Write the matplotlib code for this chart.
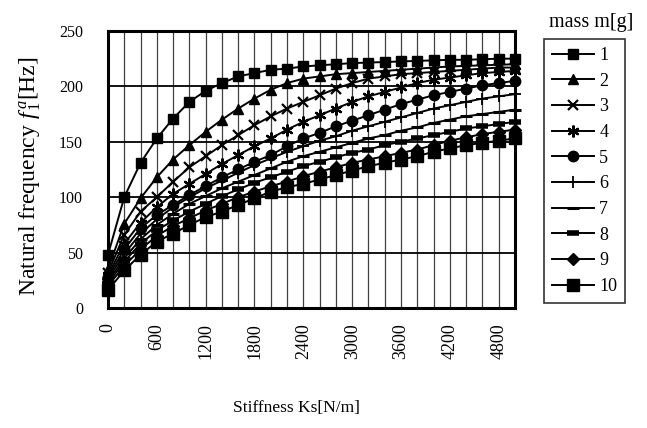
import matplotlib
matplotlib.use("Agg")
import matplotlib.pyplot as plt
import numpy as np

plt.rcParams['font.family'] = ['Liberation Serif', 'DejaVu Serif']
plt.rcParams['mathtext.fontset'] = 'custom'
plt.rcParams['mathtext.it'] = 'Liberation Serif:italic'
plt.rcParams['mathtext.rm'] = 'Liberation Serif'

stiffness = list(range(0, 5001, 200))
masses = ['1', '2', '3', '4', '5', '6', '7', '8', '9', '10']

f_m1 = [48, 100, 131, 153, 171, 186, 196, 203, 209, 212, 215, 216, 218, 219, 220, 221,
        221.5, 222, 222.5, 223, 223.5, 224, 224, 224.5, 225, 225]
f_m2 = [35, 76, 99, 118, 134, 147, 159, 170, 180, 189, 197, 203, 207, 209, 211, 212,
        213, 214, 215, 216, 217, 218, 218.5, 219, 219.5, 220]
f_m3 = [32, 66, 87, 100, 114, 127, 137, 147, 156, 165, 173, 180, 186, 192, 198, 203,
        207, 209, 211, 212, 213, 214, 215, 216, 217, 217]
f_m4 = [30, 58, 77, 91, 103, 112, 121, 130, 138, 146, 153, 161, 168, 174, 180, 186,
        191, 195, 199, 203, 206, 208, 210, 212, 213, 214]
f_m5 = [28, 53, 72, 84, 93, 102, 110, 118, 125, 132, 138, 146, 153, 158, 164, 169,
        174, 179, 184, 188, 192, 195, 198, 201, 203, 205]
f_m6 = [26, 49, 67, 80, 91, 100, 108, 115, 122, 129, 135, 141, 146, 151, 155, 160,
        164, 168, 172, 176, 180, 183, 186, 189, 191, 193]
f_m7 = [24, 45, 62, 75, 85, 94, 101, 108, 114, 120, 126, 132, 137, 141, 145, 149,
        153, 156, 160, 163, 167, 170, 173, 175, 177, 179]
f_m8 = [22, 42, 58, 70, 79, 87, 94, 101, 107, 113, 118, 123, 128, 132, 136, 140,
        143, 147, 150, 153, 156, 159, 162, 164, 166, 168]
f_m9 = [20, 38, 53, 65, 74, 81, 88, 94, 100, 105, 110, 114, 119, 123, 127, 131,
        134, 137, 140, 143, 147, 151, 154, 157, 159, 161]
f_m10 = [16, 34, 48, 60, 67, 75, 82, 87, 93, 99, 105, 109, 112, 116, 120, 124,
         128, 131, 134, 137, 141, 144, 147, 149, 151, 153]

series = [f_m1, f_m2, f_m3, f_m4, f_m5, f_m6, f_m7, f_m8, f_m9, f_m10]
styles = [
    dict(marker='s', ms=7.5, mew=1),
    dict(marker='^', ms=7.5, mew=1),
    dict(marker='x', ms=6.5, mew=1.6),
    dict(marker=(6, 2, 0), ms=8.5, mew=1.6),
    dict(marker='o', ms=7.5, mew=1),
    dict(marker='+', ms=8, mew=1.3),
    dict(marker='_', ms=8, mew=2.2),
    dict(marker='_', ms=8, mew=4.0),
    dict(marker='D', ms=6, mew=1),
    dict(marker='s', ms=8.5, mew=1),
]

fig = plt.figure(figsize=(6.47, 4.28), dpi=100)
ax = fig.add_axes([0.1669, 0.2804, 0.629, 0.6472])

for x in range(200, 5000, 200):
    ax.axvline(x, color='0.25', lw=0.9, zorder=0)
for y in range(50, 250, 50):
    ax.axhline(y, color='black', lw=1.3, zorder=0)

handles = []
for vals, st, lab in zip(series, styles, masses):
    h, = ax.plot(stiffness, vals, color='black', lw=1.4, mfc='black', mec='black',
                 label=lab, zorder=3, clip_on=False, **st)
    handles.append(h)

ax.set_xlim(0, 5000)
ax.set_ylim(0, 250)
ax.set_xticks(range(0, 5000, 600))
ax.set_xticklabels([str(v) for v in range(0, 5000, 600)], rotation=90, fontsize=13)
ax.set_yticks(range(0, 251, 50))
ax.set_yticklabels([str(v) for v in range(0, 251, 50)], fontsize=11.5)
ax.tick_params(axis='x', length=0, pad=11)
ax.tick_params(axis='y', length=0, pad=18)
for sp in ax.spines.values():
    sp.set_linewidth(2.2)
    sp.set_color('black')

fig.text(0.047, 0.588, r'Natural frequency $f_{\,1}^{\,a}$[Hz]', rotation=90,
         ha='center', va='center', fontsize=17)
fig.text(0.458, 0.047, 'Stiffness Ks[N/m]', ha='center', va='center', fontsize=12.5)

leg = fig.legend(handles=handles, loc='upper left', bbox_to_anchor=(0.841, 0.909),
                 fontsize=13, frameon=True, fancybox=False, edgecolor='black',
                 handlelength=2.3, handletextpad=0.3, labelspacing=0.48,
                 borderpad=0.45, borderaxespad=0)
leg.get_frame().set_linewidth(1.2)
fig.text(0.914, 0.948, 'mass m[g]', ha='center', va='center', fontsize=14.5)

fig.savefig('out.png', dpi=100)
